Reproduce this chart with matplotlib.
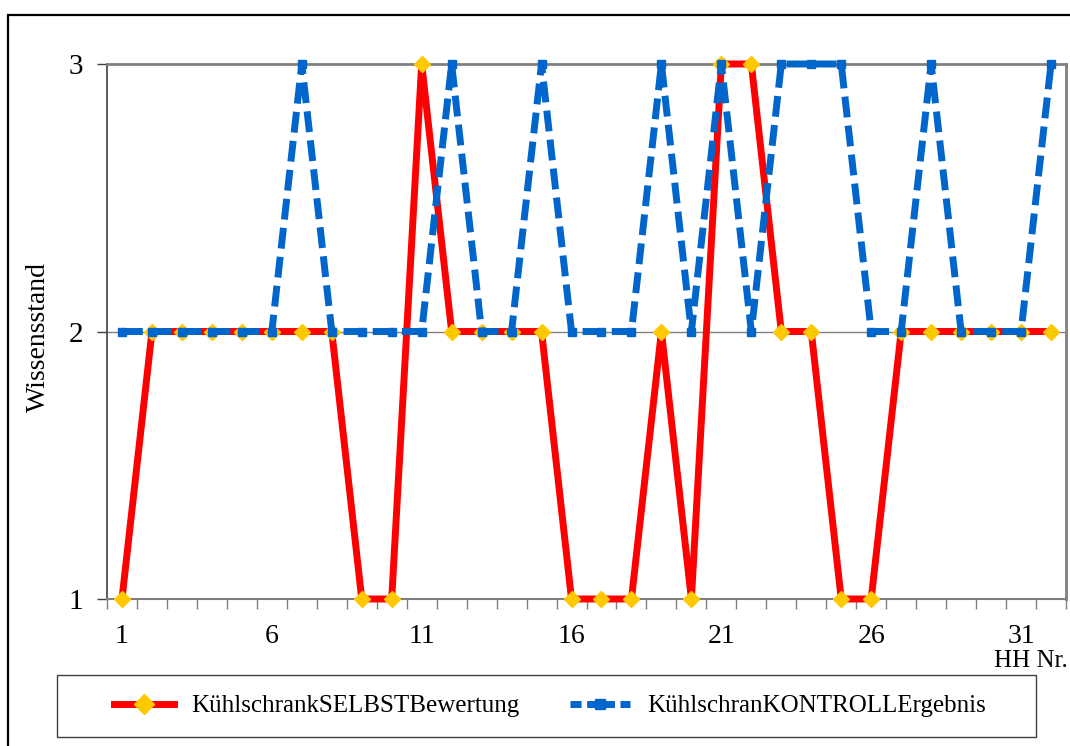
import matplotlib
matplotlib.use("Agg")
import matplotlib.pyplot as plt
from matplotlib.patches import Rectangle
from matplotlib.lines import Line2D

plt.rcParams['font.family'] = ['Liberation Serif', 'DejaVu Serif']

hh_nr = list(range(1, 33))
selbst = [1, 2, 2, 2, 2, 2, 2, 2, 1, 1, 3, 2, 2, 2, 2, 1,
          1, 1, 2, 1, 3, 3, 2, 2, 1, 1, 2, 2, 2, 2, 2, 2]
kontroll = [2, 2, 2, 2, 2, 2, 3, 2, 2, 2, 2, 3, 2, 2, 3, 2,
            2, 2, 3, 2, 3, 2, 3, 3, 3, 2, 2, 3, 2, 2, 2, 3]
x_labels = [1, 6, 11, 16, 21, 26, 31]
y_ticks = [1, 2, 3]
name_selbst = "KühlschrankSELBSTBewertung"
name_kontroll = "KühlschranKONTROLLErgebnis"

W, H = 1070, 746
fig = plt.figure(figsize=(W / 100, H / 100), dpi=100)
ax = fig.add_axes([107 / W, 1 - 599 / H, (1066 - 107) / W, (599 - 64) / H])

red = '#FF0000'
gold = '#FFC800'
blue = '#0066CC'
gray = '#808080'

ax.plot(hh_nr, selbst, color=red, lw=5, marker='D', markersize=8,
        markerfacecolor=gold, markeredgecolor=gold, clip_on=False, zorder=3)
ax.plot(hh_nr, kontroll, color=blue, lw=5, linestyle=(0, (3, 1.2)),
        marker='s', markersize=6, markerfacecolor=blue, markeredgecolor=blue,
        clip_on=False, zorder=4, dash_capstyle='butt')

ax.set_xlim(0.5, 32.5)
ax.set_ylim(1, 3)
ax.set_yticks(y_ticks)
ax.set_yticklabels([str(v) for v in y_ticks])
ax.set_xticks(x_labels)
ax.set_xticklabels([str(v) for v in x_labels])
ax.set_xticks([k + 0.5 for k in range(0, 33)], minor=True)
ax.tick_params(axis='x', which='major', length=0, pad=18, labelsize=20)
ax.tick_params(axis='x', which='minor', length=7, width=1, color=gray, direction='out')
ax.tick_params(axis='y', which='major', length=7, width=1, color='#404040',
               direction='out', pad=10, labelsize=21)

ax.axhline(2, color=gray, lw=1, zorder=1)
for side in ['top', 'right']:
    ax.spines[side].set_color(gray)
    ax.spines[side].set_linewidth(2)
ax.spines['bottom'].set_color(gray)
ax.spines['bottom'].set_linewidth(1.5)
ax.spines['left'].set_color('#404040')
ax.spines['left'].set_linewidth(1.2)

fig.text(38 / W, 1 - 337 / H, "Wissensstand", rotation=90, ha='center', va='center',
         fontsize=20)
fig.text(1068 / W, 1 - 661 / H, "HH Nr.", ha='right', va='center', fontsize=18)

# outer chart frame
fig.patches.append(Rectangle((8 / W, -0.05), 1.1, 1 - 15 / H + 0.05,
                             transform=fig.transFigure, fill=False,
                             edgecolor='black', lw=1.6))
# legend frame
fig.patches.append(Rectangle((57 / W, 1 - 737 / H), (1036 - 57) / W, 62 / H,
                             transform=fig.transFigure, fill=False,
                             edgecolor='#404040', lw=1))

handles = [
    Line2D([], [], color=red, lw=5, marker='D', markersize=10,
           markerfacecolor=gold, markeredgecolor=gold),
    Line2D([], [], color=blue, lw=5, linestyle=(0, (1.6, 0.8)), marker='s',
           markersize=7, markerfacecolor=blue, markeredgecolor=blue),
]
fig.legend(handles, [name_selbst, name_kontroll], loc='center',
           bbox_to_anchor=(550 / W, 1 - 706 / H), ncol=2, frameon=False,
           fontsize=18, handlelength=2.4, handletextpad=0.7, columnspacing=2.0,
           borderpad=0, borderaxespad=0)

fig.savefig("out.png", dpi=100)
